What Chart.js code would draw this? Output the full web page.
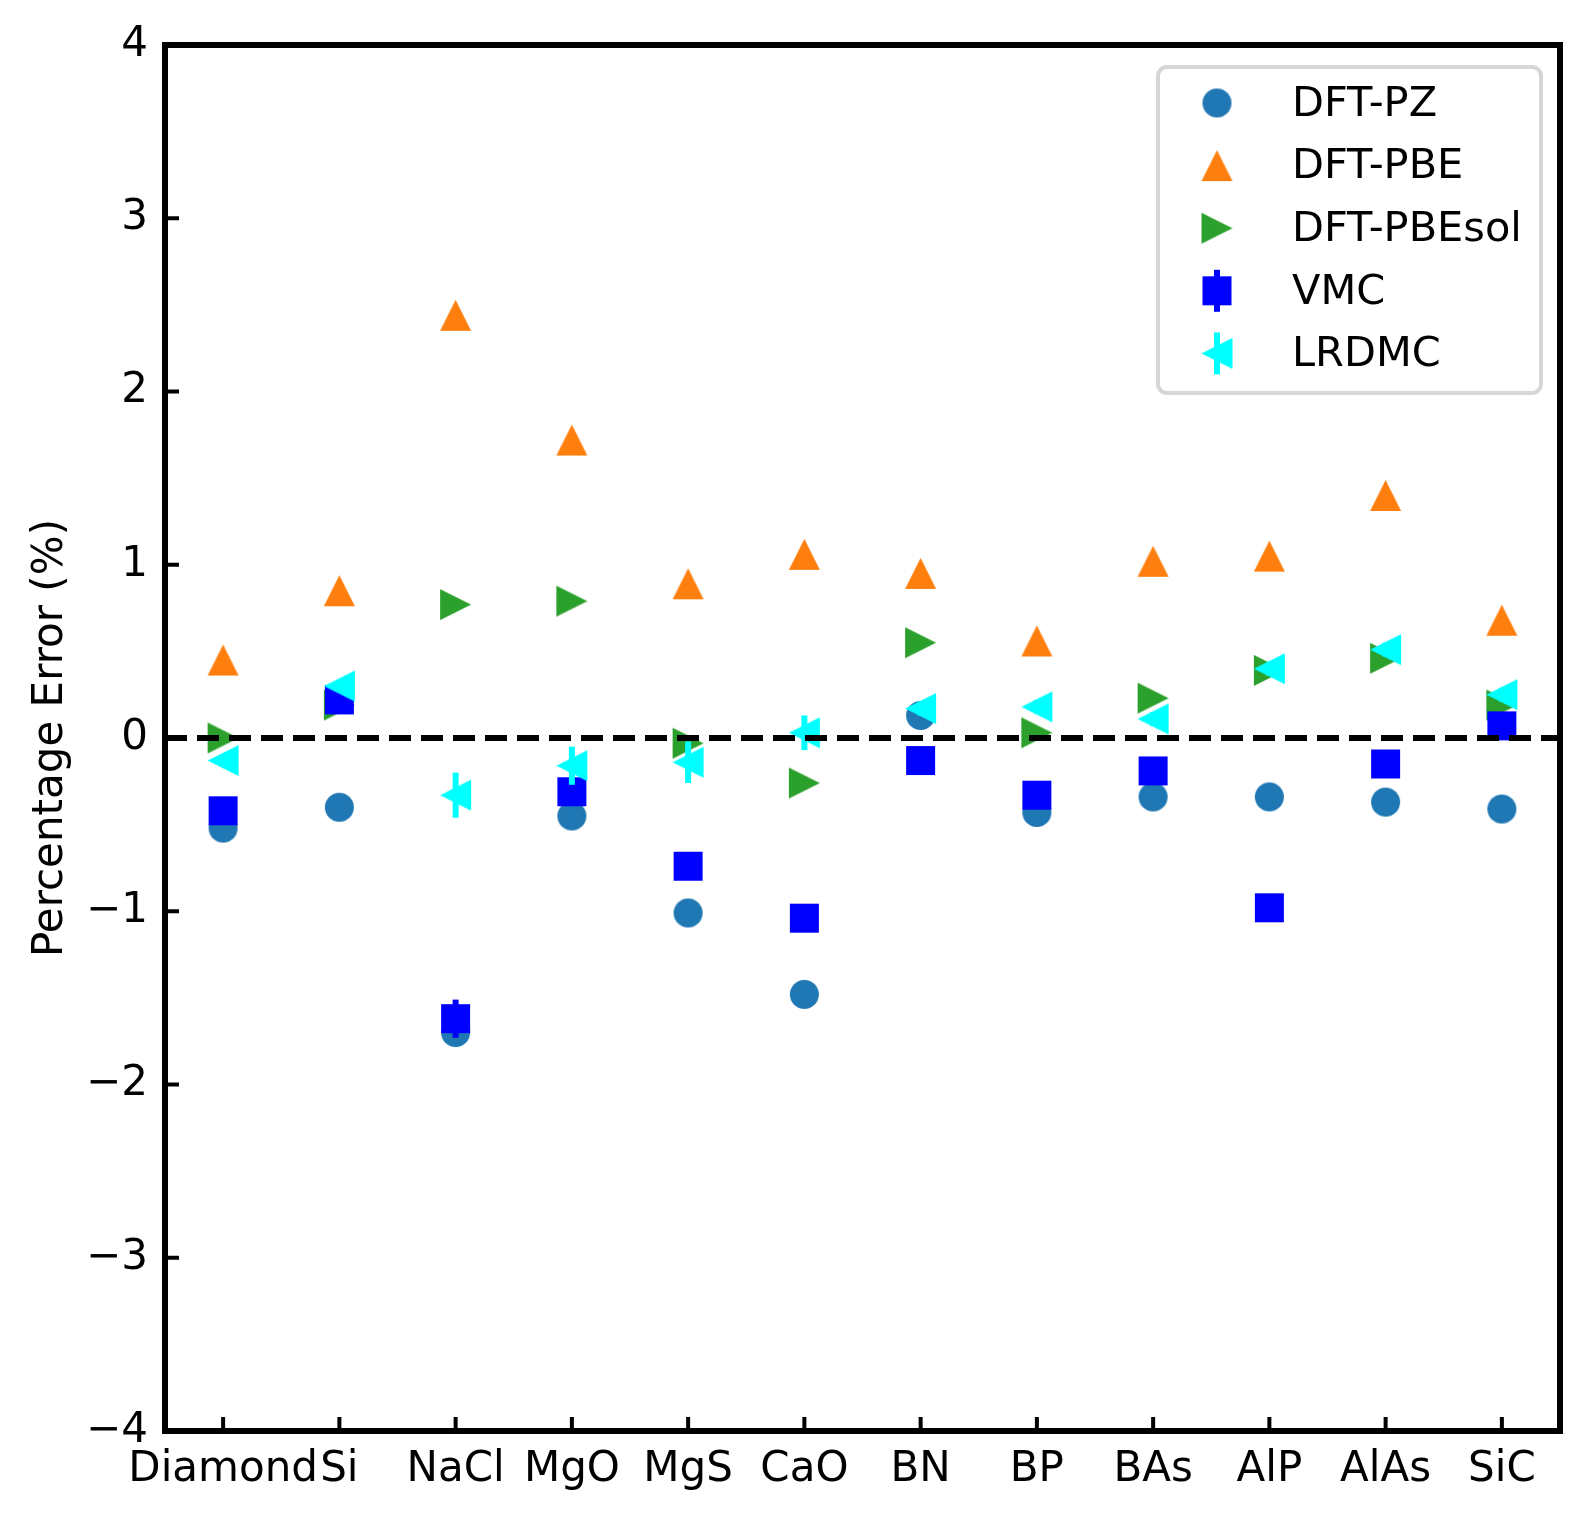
<!DOCTYPE html>
<html>
<head>
<meta charset="utf-8">
<script src="https://cdn.jsdelivr.net/npm/chart.js@4"></script>
<style>
  body { margin: 0; background: #fff; }
  canvas { display: block; }
</style>
</head>
<body>
<canvas id="errChart" width="1589" height="1519"></canvas>
<script>
// materials on the x axis
var materials = ["Diamond", "Si", "NaCl", "MgO", "MgS", "CaO", "BN", "BP", "BAs", "AlP", "AlAs", "SiC"];

// percentage error of the lattice constant for each method
var dftPZ     = [-0.52, -0.40, -1.70, -0.45, -1.01, -1.48,  0.13, -0.43, -0.34, -0.34, -0.37, -0.41];
var dftPBE    = [ 0.45,  0.85,  2.44,  1.72,  0.89,  1.06,  0.95,  0.56,  1.02,  1.05,  1.40,  0.68];
var dftPBEsol = [ 0.00,  0.19,  0.77,  0.79, -0.03, -0.26,  0.55,  0.03,  0.23,  0.39,  0.46,  0.19];
var vmc       = [-0.42,  0.22, -1.62, -0.31, -0.74, -1.04, -0.13, -0.33, -0.19, -0.98, -0.15,  0.07];
var lrdmc     = [-0.13,  0.30, -0.33, -0.16, -0.14,  0.03,  0.17,  0.18,  0.11,  0.40,  0.51,  0.25];

// error bars
var vmcErr    = [0.03, 0.03, 0.11, 0.04, 0.03, 0.03, 0.03, 0.03, 0.03, 0.03, 0.03, 0.03];
var lrdmcErr  = [0.03, 0.03, 0.13, 0.11, 0.12, 0.10, 0.04, 0.04, 0.04, 0.04, 0.04, 0.04];

// y axis ticks
var yTicks = [-4, -3, -2, -1, 0, 1, 2, 3, 4];

var FONT = "'DejaVu Sans', sans-serif";

// marker images, shaped like the matplotlib ones
function makeMarker(shape, color, size) {
    var c = document.createElement("canvas");
    c.width = size + 2;
    c.height = size + 2;
    var g = c.getContext("2d");
    var m = (size + 2) / 2, h = size / 2;
    g.fillStyle = color;
    g.beginPath();
    if (shape === "circle") {
        g.arc(m, m, h, 0, Math.PI * 2);
    } else if (shape === "square") {
        g.rect(m - h, m - h, size, size);
    } else if (shape === "up") {
        g.moveTo(m, m - h); g.lineTo(m + h, m + h); g.lineTo(m - h, m + h);
    } else if (shape === "right") {
        g.moveTo(m + h, m); g.lineTo(m - h, m - h); g.lineTo(m - h, m + h);
    } else if (shape === "left") {
        g.moveTo(m - h, m); g.lineTo(m + h, m - h); g.lineTo(m + h, m + h);
    }
    g.closePath();
    g.fill();
    return c;
}

function series(label, data, color, shape, size, order, errors) {
    return {
        label: label,
        data: data,
        showLine: false,
        borderColor: color,
        backgroundColor: color,
        pointStyle: makeMarker(shape, color, size),
        pointRadius: size / 2,
        order: order,
        errors: errors || null
    };
}

var plotPlugin = {
    id: "mplLook",
    afterDatasetDraw: function (chart, args) {
        var ds = chart.data.datasets[args.index];
        if (!ds.errors) return;
        var ctx = chart.ctx, x = chart.scales.x, y = chart.scales.y;
        ctx.save();
        ctx.strokeStyle = ds.borderColor;
        ctx.lineWidth = 6;
        for (var i = 0; i < ds.data.length; i++) {
            var px = x.getPixelForValue(i);
            ctx.beginPath();
            ctx.moveTo(px, y.getPixelForValue(ds.data[i] - ds.errors[i]));
            ctx.lineTo(px, y.getPixelForValue(ds.data[i] + ds.errors[i]));
            ctx.stroke();
        }
        ctx.restore();
    },
    afterDatasetsDraw: function (chart) {
        var ctx = chart.ctx, a = chart.chartArea;
        var py = chart.scales.y.getPixelForValue(0);
        ctx.save();
        ctx.strokeStyle = "#000";
        ctx.lineWidth = 6;
        ctx.setLineDash([22, 10]);
        ctx.beginPath();
        ctx.moveTo(a.left, py);
        ctx.lineTo(a.right, py);
        ctx.stroke();
        ctx.restore();
    },
    afterDraw: function (chart) {
        var ctx = chart.ctx, a = chart.chartArea;
        var xs = chart.scales.x, ys = chart.scales.y;
        ctx.save();
        // inward ticks
        ctx.strokeStyle = "#000";
        ctx.lineWidth = 4;
        ctx.beginPath();
        for (var i = 0; i < xs.ticks.length; i++) {
            var px = xs.getPixelForTick(i);
            ctx.moveTo(px, a.bottom);
            ctx.lineTo(px, a.bottom - 14);
        }
        for (var j = 0; j < ys.ticks.length; j++) {
            var py = ys.getPixelForTick(j);
            ctx.moveTo(a.left, py);
            ctx.lineTo(a.left + 14, py);
        }
        ctx.stroke();
        // frame
        ctx.lineWidth = 6;
        ctx.strokeRect(a.left, a.top, a.right - a.left, a.bottom - a.top);

        // legend
        var bx = 1158, by = 67, bw = 383, bh = 326, r = 9;
        ctx.beginPath();
        ctx.moveTo(bx + r, by);
        ctx.arcTo(bx + bw, by, bx + bw, by + bh, r);
        ctx.arcTo(bx + bw, by + bh, bx, by + bh, r);
        ctx.arcTo(bx, by + bh, bx, by, r);
        ctx.arcTo(bx, by, bx + bw, by, r);
        ctx.closePath();
        ctx.fillStyle = "rgba(255,255,255,0.8)";
        ctx.fill();
        ctx.strokeStyle = "#d6d6d6";
        ctx.lineWidth = 4;
        ctx.stroke();

        ctx.font = "41.5px " + FONT;
        ctx.textBaseline = "middle";
        ctx.textAlign = "left";
        chart.data.datasets.forEach(function (ds, n) {
            var cy = 103 + n * 62.6, cx = 1217;
            if (ds.errors) {
                ctx.strokeStyle = ds.borderColor;
                ctx.lineWidth = 6;
                ctx.beginPath();
                ctx.moveTo(cx, cy - 21);
                ctx.lineTo(cx, cy + 21);
                ctx.stroke();
            }
            var img = ds.pointStyle;
            ctx.drawImage(img, cx - img.width / 2, cy - img.height / 2);
            ctx.fillStyle = "#000";
            ctx.fillText(ds.label, 1292, cy + 2);
        });
        ctx.restore();
    }
};

new Chart(document.getElementById("errChart"), {
    type: "line",
    data: {
        labels: materials,
        datasets: [
            series("DFT-PZ", dftPZ, "#1f77b4", "circle", 29, 5),
            series("DFT-PBE", dftPBE, "#ff7f0e", "up", 31, 4),
            series("DFT-PBEsol", dftPBEsol, "#2ca02c", "right", 31, 3),
            series("VMC", vmc, "#0000ff", "square", 29, 2, vmcErr),
            series("LRDMC", lrdmc, "#00ffff", "left", 31, 1, lrdmcErr)
        ]
    },
    options: {
        responsive: false,
        animation: false,
        devicePixelRatio: 1,
        layout: { padding: { left: 10, right: 29, top: 45, bottom: 0 } },
        plugins: {
            legend: { display: false },
            tooltip: { enabled: false }
        },
        scales: {
            x: {
                type: "category",
                offset: true,
                grid: { display: false, drawTicks: false },
                border: { display: false },
                ticks: {
                    color: "#000",
                    font: { family: FONT, size: 42 },
                    padding: 14,
                    maxRotation: 0,
                    autoSkip: false
                },
                afterFit: function (s) { s.height = 88; }
            },
            y: {
                min: -4,
                max: 4,
                grid: { display: false, drawTicks: false },
                border: { display: false },
                afterBuildTicks: function (s) {
                    s.ticks = yTicks.map(function (v) { return { value: v }; });
                },
                ticks: {
                    color: "#000",
                    font: { family: FONT, size: 42 },
                    padding: 17,
                    callback: function (v) { return v < 0 ? "\u2212" + Math.abs(v) : String(v); }
                },
                title: {
                    display: true,
                    text: "Percentage Error (%)",
                    color: "#000",
                    font: { family: FONT, size: 42 },
                    padding: { top: 16, bottom: 0 }
                },
                afterFit: function (s) { s.width = 155; }
            }
        }
    },
    plugins: [plotPlugin]
});
</script>
</body>
</html>
